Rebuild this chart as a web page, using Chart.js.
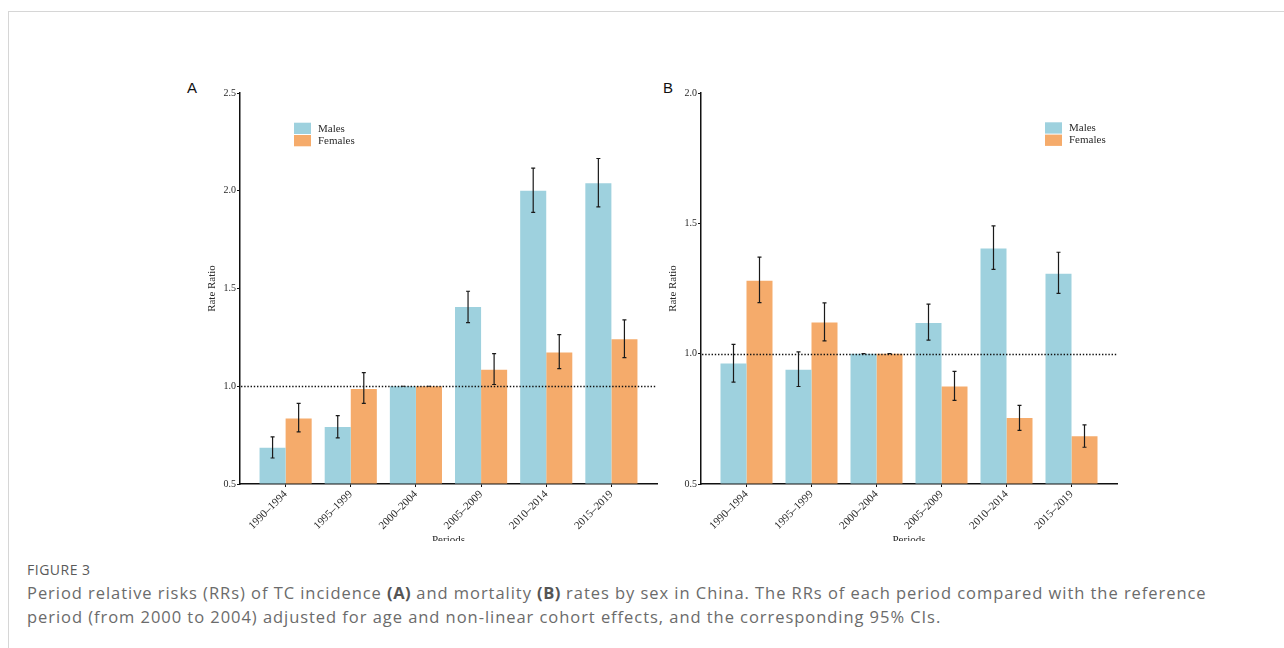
<!DOCTYPE html>
<html>
<head>
<meta charset="utf-8">
<script src="https://cdn.jsdelivr.net/npm/chart.js@4.4.1/dist/chart.umd.min.js"></script>
<style>
  html, body { margin: 0; padding: 0; background: #fff; width: 1284px; height: 648px; overflow: hidden; }
  #frame { position: absolute; left: 8px; top: 11px; width: 1320px; height: 700px;
           border: 1px solid #d6d6d6; box-sizing: border-box; }
  .panel { position: absolute; top: 60px; height: 481px; overflow: hidden; }
  #panelA { left: 150px; width: 515px; }
  #panelB { left: 662px; width: 463px; }
  .tag { position: absolute; top: 80px; font-family: 'Liberation Sans', Arial, sans-serif;
         font-size: 15px; line-height: 15px; color: #111; }
  #tagA { left: 187px; }
  #tagB { left: 663px; }
  .caption { position: absolute; left: 27px; font-family: 'Open Sans', sans-serif; color: #6b6b6b;
             white-space: nowrap; }
  #figno { top: 561px; font-size: 14px; line-height: 18px; color: #5a5a5a; letter-spacing: 0.5px; }
  #line1 { top: 581px; font-size: 16.5px; line-height: 24px; letter-spacing: 0.95px; }
  #line2 { top: 605px; font-size: 16.5px; line-height: 24px; letter-spacing: 0.95px; }
  .caption b { color: #555; font-weight: 700; letter-spacing: 0.5px; }
</style>
</head>
<body>
<div id="frame"></div>
<div class="tag" id="tagA">A</div>
<div class="tag" id="tagB">B</div>
<div class="panel" id="panelA"><canvas id="chartA" width="515" height="500"></canvas></div>
<div class="panel" id="panelB"><canvas id="chartB" width="463" height="500"></canvas></div>
<div class="caption" id="figno">FIGURE 3</div>
<div class="caption" id="line1">Period relative risks (RRs) of TC incidence <b>(A)</b> and mortality <b>(B)</b> rates by sex in China. The RRs of each period compared with the reference</div>
<div class="caption" id="line2">period (from 2000 to 2004) adjusted for age and non-linear cohort effects, and the corresponding 95% CIs.</div>

<script>
// Periods on the x axis
const categories = ['1990–1994', '1995–1999', '2000–2004', '2005–2009', '2010–2014', '2015–2019'];
const seriesNames = ['Males', 'Females'];
const referenceRR = 1.0;

// A: incidence rate ratios with 95% CI
const incMales       = [0.685, 0.791, 1.000, 1.405, 2.000, 2.039];
const incMalesLow    = [0.633, 0.736, 1.000, 1.325, 1.889, 1.918];
const incMalesHigh   = [0.741, 0.850, 1.000, 1.486, 2.116, 2.165];
const incFemales     = [0.835, 0.986, 1.000, 1.085, 1.173, 1.240];
const incFemalesLow  = [0.767, 0.912, 1.000, 1.009, 1.090, 1.146];
const incFemalesHigh = [0.912, 1.070, 1.000, 1.167, 1.264, 1.340];
const yTicksA = [0.5, 1.0, 1.5, 2.0, 2.5];

// B: mortality rate ratios with 95% CI
const morMales       = [0.962, 0.938, 1.000, 1.118, 1.403, 1.307];
const morMalesLow    = [0.891, 0.874, 1.000, 1.052, 1.323, 1.231];
const morMalesHigh   = [1.036, 1.007, 1.000, 1.190, 1.490, 1.389];
const morFemales     = [1.280, 1.120, 1.000, 0.874, 0.753, 0.683];
const morFemalesLow  = [1.196, 1.049, 1.000, 0.821, 0.706, 0.641];
const morFemalesHigh = [1.370, 1.195, 1.000, 0.932, 0.802, 0.727];
const yTicksB = [0.5, 1.0, 1.5, 2.0];

const MALE_COLOR = 'rgb(158, 209, 222)';
const FEMALE_COLOR = 'rgb(245, 171, 107)';
const SERIF = "'Liberation Serif', 'Times New Roman', serif";
const INK = '#111';
const TEXT = '#2a2a2a';

// Vertical whiskers with end caps, drawn on each bar from its CI bounds
const errorBars = {
  id: 'errorBars',
  afterDatasetsDraw(chart, args, opts) {
    const { ctx } = chart;
    const yScale = chart.scales.y;
    chart.data.datasets.forEach((ds, di) => {
      const meta = chart.getDatasetMeta(di);
      meta.data.forEach((bar, i) => {
        const x = bar.x;
        const yLo = yScale.getPixelForValue(ds.lower[i]);
        const yHi = yScale.getPixelForValue(ds.upper[i]);
        const c = opts.cap;
        ctx.save();
        ctx.strokeStyle = opts.color;
        ctx.lineWidth = opts.width;
        ctx.beginPath();
        ctx.moveTo(x, yLo); ctx.lineTo(x, yHi);
        ctx.moveTo(x - c, yLo); ctx.lineTo(x + c, yLo);
        ctx.moveTo(x - c, yHi); ctx.lineTo(x + c, yHi);
        ctx.stroke();
        ctx.restore();
      });
    });
  }
};

// Dotted horizontal line at the reference rate ratio
const refLine = {
  id: 'refLine',
  afterDatasetsDraw(chart, args, opts) {
    const { ctx, chartArea } = chart;
    const y = Math.round(chart.scales.y.getPixelForValue(opts.value)) + 0.5;
    ctx.save();
    ctx.strokeStyle = INK;
    ctx.lineWidth = 1.4;
    ctx.setLineDash([1.4, 1.8]);
    ctx.beginPath();
    ctx.moveTo(chartArea.left + 1, y);
    ctx.lineTo(chartArea.right, y);
    ctx.stroke();
    ctx.restore();
  }
};

// Key with filled swatches, placed inside the plot
const boxLegend = {
  id: 'boxLegend',
  afterDraw(chart, args, opts) {
    const { ctx } = chart;
    ctx.save();
    ctx.font = `11px ${SERIF}`;
    ctx.textBaseline = 'middle';
    chart.data.datasets.forEach((ds, i) => {
      const top = opts.y + i * 12.3;
      ctx.fillStyle = ds.backgroundColor;
      ctx.fillRect(opts.x, top, 17, 11.3);
      ctx.fillStyle = TEXT;
      ctx.fillText(ds.label, opts.x + 24, top + 6);
    });
    ctx.restore();
  }
};

function makeChart(canvasId, cfg) {
  const datasets = [
    { label: seriesNames[0], values: cfg.males, lower: cfg.malesLow, upper: cfg.malesHigh, backgroundColor: MALE_COLOR },
    { label: seriesNames[1], values: cfg.females, lower: cfg.femalesLow, upper: cfg.femalesHigh, backgroundColor: FEMALE_COLOR }
  ].map(d => ({
    label: d.label,
    data: d.values.map((v, i) => ({ x: i, y: v })),
    lower: d.lower,
    upper: d.upper,
    backgroundColor: d.backgroundColor,
    borderWidth: 0,
    base: cfg.yTicks[0],
    categoryPercentage: 0.8,
    barPercentage: 1.0
  }));

  return new Chart(document.getElementById(canvasId), {
    type: 'bar',
    data: { datasets },
    options: {
      responsive: false,
      animation: false,
      devicePixelRatio: 1,
      layout: { padding: { top: 33, right: 8, left: 0, bottom: 0 } },
      plugins: {
        legend: { display: false },
        tooltip: { enabled: false },
        errorBars: { color: '#1a1a1a', width: 1.2, cap: 2 },
        refLine: { value: referenceRR },
        boxLegend: cfg.legendAt
      },
      scales: {
        x: {
          type: 'linear',
          min: -0.7,
          max: categories.length - 0.3,
          offset: false,
          afterBuildTicks: s => { s.ticks = categories.map((c, i) => ({ value: i })); },
          afterFit: s => { s.height = 76; },
          border: { display: true, color: INK, width: 1.5 },
          grid: { drawOnChartArea: false, drawTicks: true, tickLength: 3, color: INK, offset: false },
          ticks: {
            autoSkip: false, minRotation: 45, maxRotation: 45, padding: 1,
            color: TEXT, font: { family: SERIF, size: 11 },
            callback: v => categories[v]
          },
          title: {
            display: true, text: 'Periods', color: TEXT,
            font: { family: SERIF, size: 11 }, padding: { top: 0, bottom: 13 }
          }
        },
        y: {
          type: 'linear',
          min: cfg.yTicks[0],
          max: cfg.yTicks[cfg.yTicks.length - 1],
          afterBuildTicks: s => { s.ticks = cfg.yTicks.map(v => ({ value: v })); },
          afterFit: s => { s.width = cfg.yAxisWidth; },
          border: { display: true, color: INK, width: 1.5 },
          grid: { drawOnChartArea: false, drawTicks: true, tickLength: 3, color: INK },
          ticks: {
            padding: 1, color: TEXT, font: { family: SERIF, size: 10 },
            callback: v => v.toFixed(1)
          },
          title: {
            display: true, text: 'Rate Ratio', color: TEXT,
            font: { family: SERIF, size: 11 }, padding: { top: cfg.yTitleInset, bottom: 0 }
          }
        }
      }
    },
    plugins: [refLine, errorBars, boxLegend]
  });
}

makeChart('chartA', {
  males: incMales, malesLow: incMalesLow, malesHigh: incMalesHigh,
  females: incFemales, femalesLow: incFemalesLow, femalesHigh: incFemalesHigh,
  yTicks: yTicksA, yAxisWidth: 90, yTitleInset: 56,
  legendAt: { x: 144, y: 62.7 }
});

makeChart('chartB', {
  males: morMales, malesLow: morMalesLow, malesHigh: morMalesHigh,
  females: morFemales, femalesLow: morFemalesLow, femalesHigh: morFemalesHigh,
  yTicks: yTicksB, yAxisWidth: 39, yTitleInset: 5,
  legendAt: { x: 383, y: 62.3 }
});
</script>
</body>
</html>
